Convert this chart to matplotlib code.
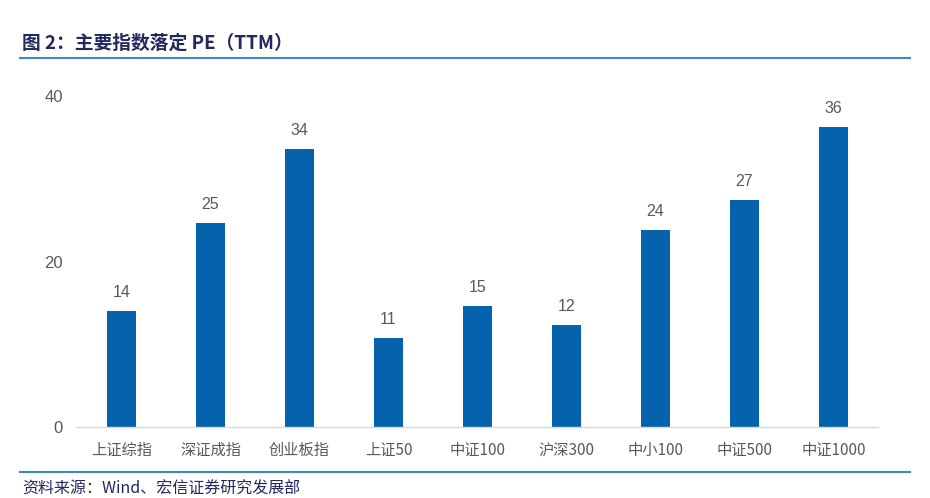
import matplotlib
matplotlib.use("Agg")
import matplotlib.pyplot as plt
from matplotlib.lines import Line2D

plt.rcParams['font.family'] = ['Liberation Sans', 'Noto Sans CJK SC', 'DejaVu Sans']

categories = ['上证综指', '深证成指', '创业板指', '上证50', '中证100', '沪深300', '中小100', '中证500', '中证1000']
values = [14.0, 24.6, 33.6, 10.7, 14.6, 12.3, 23.8, 27.4, 36.2]
yticks = [0, 20, 40]

title = '图 2：主要指数落定 PE（TTM）'
source = '资料来源：Wind、宏信证券研究发展部'

bar_color = '#0563AE'
grey = '#595959'
navy = '#23295E'
rule_color = '#3B8CC6'

fig = plt.figure(figsize=(9.3, 4.98), dpi=100)
W, H = 930, 498
ax = fig.add_axes([77 / W, 1 - 427 / H, (878 - 77) / W, (427 - 96) / H])

x = list(range(len(categories)))
bars = ax.bar(x, values, width=0.32, color=bar_color, zorder=2)
for xi, v in zip(x, values):
    ax.annotate(f'{v:.0f}', (xi, v), xytext=(0, 8), textcoords='offset points',
                ha='center', va='bottom', fontsize=11.5, color=grey)

ax.set_xlim(-0.5, len(categories) - 0.5)
ax.set_ylim(0, 40)
ax.set_yticks(yticks)
ax.set_yticklabels([str(t) for t in yticks], fontsize=12, color=grey)
ax.set_xticks(x)
ax.set_xticklabels(categories, fontsize=11, color=grey, fontweight='light',
                   family=['Noto Sans CJK SC', 'DejaVu Sans'])
ax.tick_params(axis='both', length=0)
ax.tick_params(axis='y', pad=10)
ax.tick_params(axis='x', pad=11)
for s in ['top', 'right', 'left']:
    ax.spines[s].set_visible(False)
ax.spines['bottom'].set_color('#D9D9D9')
ax.spines['bottom'].set_linewidth(1.0)

fig.text(22 / W, 1 - 43 / H, title, fontsize=13.5, fontweight='bold', color=navy,
         ha='left', va='center', family=['Noto Sans CJK SC', 'DejaVu Sans'])
fig.add_artist(Line2D([20 / W, 910 / W], [1 - 58 / H, 1 - 58 / H], color=rule_color, lw=1.5))
fig.add_artist(Line2D([20 / W, 910 / W], [1 - 472 / H, 1 - 472 / H], color=rule_color, lw=1.5))
fig.text(22 / W, 1 - 489 / H, source, fontsize=11.5, color=navy,
         ha='left', va='center', family=['Noto Sans CJK SC', 'DejaVu Sans'])

fig.savefig('out.png', dpi=100)
